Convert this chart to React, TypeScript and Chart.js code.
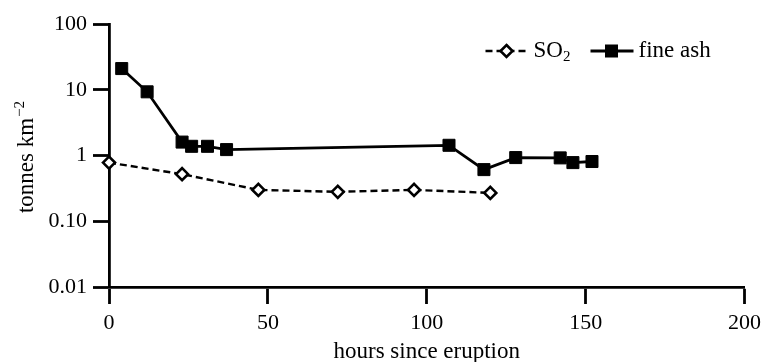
import React, { useEffect, useRef } from "react";
import { Chart, registerables } from "chart.js";

Chart.register(...registerables);

// ---- data ----
const so2Hours = [0, 23, 47, 72, 96, 120];
const so2Values = [0.78, 0.52, 0.3, 0.28, 0.3, 0.27];
const ashHours = [4, 12, 23, 26, 31, 37, 107, 118, 128, 142, 146, 152];
const ashValues = [21, 9.3, 1.6, 1.38, 1.38, 1.23, 1.43, 0.61, 0.93, 0.92, 0.78, 0.81];

const xTicks = [0, 50, 100, 150, 200];
const yTicks = [0.01, 0.1, 1, 10, 100];
const yTickLabels = ["0.01", "0.10", "1", "10", "100"];

const xTitle = "hours since eruption";
const yTitleMain = "tonnes km";
const yTitleSup = "\u22122";
const so2LabelMain = "SO";
const so2LabelSub = "2";
const ashLabel = "fine ash";

const FONT = "'Liberation Serif', 'Times New Roman', serif";

const ink = "#000";

function drawDiamond(ctx: CanvasRenderingContext2D, x: number, y: number, r: number) {
  ctx.beginPath();
  ctx.moveTo(x, y - r);
  ctx.lineTo(x + r, y);
  ctx.lineTo(x, y + r);
  ctx.lineTo(x - r, y);
  ctx.closePath();
  ctx.fillStyle = "#fff";
  ctx.fill();
  ctx.lineWidth = 2.6;
  ctx.strokeStyle = ink;
  ctx.stroke();
}

const annotationPlugin = {
  id: "customText",
  afterDraw(chart: any) {
    const { ctx, chartArea } = chart;
    ctx.save();
    // Y axis title with superscript
    ctx.fillStyle = ink;
    const mainFont = `23px ${FONT}`;
    const supFont = `15px ${FONT}`;
    ctx.font = mainFont;
    const wMain = ctx.measureText(yTitleMain).width;
    ctx.font = supFont;
    const wSup = ctx.measureText(yTitleSup).width;
    const total = wMain + wSup;
    const cy = (chartArea.top + chartArea.bottom) / 2 + 2;
    ctx.translate(33, cy);
    ctx.rotate(-Math.PI / 2);
    ctx.textBaseline = "alphabetic";
    ctx.textAlign = "left";
    ctx.font = mainFont;
    ctx.fillText(yTitleMain, -total / 2, 0);
    ctx.font = supFont;
    ctx.fillText(yTitleSup, -total / 2 + wMain + 1, -9);
    ctx.restore();

    // Legend
    ctx.save();
    const ly = chartArea.top + 27;
    const base = chartArea.right - 259;
    // SO2 entry
    ctx.strokeStyle = ink;
    ctx.lineWidth = 2.4;
    ctx.setLineDash([7, 4]);
    ctx.beginPath();
    ctx.moveTo(base, ly);
    ctx.lineTo(base + 43, ly);
    ctx.stroke();
    ctx.setLineDash([]);
    drawDiamond(ctx, base + 21, ly, 6);
    ctx.fillStyle = ink;
    ctx.textBaseline = "alphabetic";
    ctx.textAlign = "left";
    ctx.font = `23px ${FONT}`;
    const tx = base + 48;
    ctx.fillText(so2LabelMain, tx, ly + 6);
    const wSO = ctx.measureText(so2LabelMain).width;
    ctx.font = `15px ${FONT}`;
    ctx.fillText(so2LabelSub, tx + wSO, ly + 10);

    // fine ash entry
    const b2 = base + 105;
    ctx.lineWidth = 2.8;
    ctx.beginPath();
    ctx.moveTo(b2, ly);
    ctx.lineTo(b2 + 43, ly);
    ctx.stroke();
    ctx.fillStyle = ink;
    ctx.fillRect(b2 + 21 - 6.5, ly - 6.5, 13, 13);
    ctx.font = `23px ${FONT}`;
    ctx.fillText(ashLabel, b2 + 48, ly + 6);
    ctx.restore();
  },
};

export default function App() {
  const canvasRef = useRef<HTMLCanvasElement | null>(null);

  useEffect(() => {
    if (!canvasRef.current) return;
    Chart.defaults.font.family = FONT;
    Chart.defaults.color = ink;
    const chart = new Chart(canvasRef.current, {
      type: "line",
      data: {
        datasets: [
          {
            label: "SO2",
            data: so2Hours.map((x, i) => ({ x, y: so2Values[i] })),
            borderColor: ink,
            borderWidth: 2.4,
            borderDash: [7, 4],
            pointStyle: "rectRot",
            pointRadius: 6,
            pointBorderWidth: 2.6,
            pointBackgroundColor: "#fff",
            pointBorderColor: ink,
            fill: false,
            tension: 0,
            clip: false as any,
          },
          {
            label: "fine ash",
            data: ashHours.map((x, i) => ({ x, y: ashValues[i] })),
            borderColor: ink,
            borderWidth: 2.8,
            pointStyle: "rect",
            pointRadius: 8.5,
            pointBorderWidth: 1,
            pointBackgroundColor: ink,
            pointBorderColor: ink,
            fill: false,
            tension: 0,
            clip: false as any,
          },
        ],
      },
      options: {
        animation: false,
        responsive: true,
        maintainAspectRatio: false,
        layout: { padding: { top: 24, right: 21, left: 0, bottom: 0 } },
        plugins: {
          legend: { display: false },
          tooltip: { enabled: false },
        },
        scales: {
          x: {
            type: "linear",
            min: 0,
            max: 200,
            afterBuildTicks: (s: any) => {
              s.ticks = xTicks.map((v) => ({ value: v }));
            },
            afterFit: (s: any) => {
              s.height = 75;
            },
            ticks: {
              color: ink,
              font: { family: FONT, size: 22 },
              padding: 6,
              maxRotation: 0,
              autoSkip: false,
            },
            grid: {
              display: true,
              drawOnChartArea: false,
              drawTicks: true,
              tickLength: 17,
              tickWidth: 2.8,
              tickColor: ink,
              color: ink,
            },
            border: { display: true, color: ink, width: 2.8 },
            title: {
              display: true,
              text: xTitle,
              color: ink,
              font: { family: FONT, size: 23 },
              padding: { top: 0, bottom: -4 },
            },
          },
          y: {
            type: "logarithmic",
            min: 0.01,
            max: 100,
            afterBuildTicks: (s: any) => {
              s.ticks = yTicks.map((v) => ({ value: v }));
            },
            afterFit: (s: any) => {
              s.width = 109;
            },
            ticks: {
              color: ink,
              font: { family: FONT, size: 22 },
              padding: 6,
              autoSkip: false,
              callback: (_v: any, index: number) => yTickLabels[index],
            },
            grid: {
              display: true,
              drawOnChartArea: false,
              drawTicks: true,
              tickLength: 16,
              tickWidth: 2.8,
              tickColor: ink,
              color: ink,
            },
            border: { display: true, color: ink, width: 2.8 },
          },
        },
      },
      plugins: [annotationPlugin],
    } as any);
    return () => chart.destroy();
  }, []);

  return (
    <div style={{ position: "fixed", left: 0, top: 0, width: 767, height: 362, background: "#fff" }}>
      <canvas ref={canvasRef} />
    </div>
  );
}
